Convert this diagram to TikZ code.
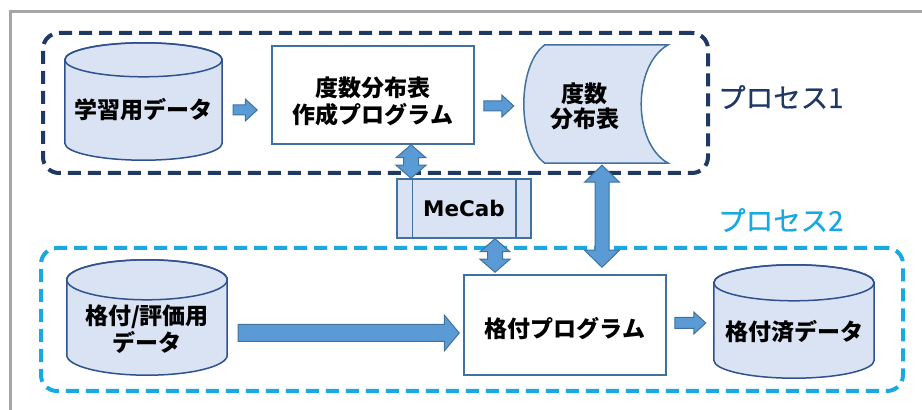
\documentclass[tikz,border=0pt]{standalone}
\usepackage{fontspec}
\newfontfamily\jp{Noto Sans CJK JP}
\newfontfamily\jpmed{Noto Sans CJK JP}[FakeBold=0.6]
\newfontfamily\lat{DejaVu Sans}
\usetikzlibrary{calc}
\definecolor{navy}{HTML}{203864}
\definecolor{sky}{HTML}{19A9E1}
\definecolor{cylfillc}{HTML}{DAE3F3}
\definecolor{cyllinec}{HTML}{2F528F}
\definecolor{boxline}{HTML}{41719C}
\definecolor{arrfill}{HTML}{5B9BD5}
\definecolor{framec}{HTML}{A6A6A6}
\tikzset{
  frameline/.style={draw=framec,line width=3pt},
  proc1box/.style={draw=navy,line width=4pt,dash pattern=on 13pt off 7pt,rounded corners=16pt,inner sep=0pt},
  proc2box/.style={draw=sky,line width=4pt,dash pattern=on 13pt off 7pt,rounded corners=16pt,inner sep=0pt},
  area/.style={inner sep=0pt,minimum width=#1},
  progbox/.style={draw=boxline,line width=1.5pt,fill=white,inner sep=0pt},
  cylfill/.style={fill=cylfillc,draw=cyllinec,line width=1.5pt},
  cylline/.style={draw=cyllinec,line width=1.5pt},
  storefill/.style={fill=cylfillc,draw=boxline,line width=1.5pt},
  jtxt/.style={font=\jp\bfseries\fontsize{23}{27}\selectfont,align=center,text=black,inner sep=0pt},
  proclabel/.style={font=\jpmed\fontsize{27.5}{30}\selectfont,inner sep=0pt,anchor=west},
  arr/.style={fill=arrfill,draw=boxline,line width=1pt,line join=miter},
}
% cylinder outline fitted into a named node
\newcommand\drawcyl[2]{%
  \path[cylfill] let \p1=(#1.north west), \p2=(#1.south east) in
    (\x1,\y1-#2pt) -- (\x1,\y2+#2pt) arc[start angle=180,end angle=360,x radius={(\x2-\x1)/2},y radius=#2pt]
    -- (\x2,\y1-#2pt) arc[start angle=0,end angle=180,x radius={(\x2-\x1)/2},y radius=#2pt] -- cycle;
  \draw[cylline] let \p1=(#1.north west), \p2=(#1.south east) in
    (\x1,\y1-#2pt) arc[start angle=180,end angle=-180,x radius={(\x2-\x1)/2},y radius=#2pt];
}
% single block arrow: start, end, half shaft, half head, head length (all pt)
\newcommand\fatarrow[5]{%
  \coordinate (faN) at ($(#2)!#5pt!(#1)$);
  \draw[arr] ($(#1)!#3pt!90:(#2)$) -- ($(faN)!#3pt!90:(#2)$) -- ($(faN)!#4pt!90:(#2)$) -- (#2)
    -- ($(faN)!#4pt!-90:(#2)$) -- ($(faN)!#3pt!-90:(#2)$) -- ($(#1)!#3pt!-90:(#2)$) -- cycle;
}
% double block arrow
\newcommand\dblarrow[5]{%
  \coordinate (daA) at ($(#1)!#5pt!(#2)$);
  \coordinate (daB) at ($(#2)!#5pt!(#1)$);
  \draw[arr] (#1) -- ($(daA)!#4pt!90:(#2)$) -- ($(daA)!#3pt!90:(#2)$) -- ($(daB)!#3pt!90:(#2)$)
    -- ($(daB)!#4pt!90:(#2)$) -- (#2) -- ($(daB)!#4pt!-90:(#2)$) -- ($(daB)!#3pt!-90:(#2)$)
    -- ($(daA)!#3pt!-90:(#2)$) -- ($(daA)!#4pt!-90:(#2)$) -- cycle;
}
\begin{document}
\begin{tikzpicture}[x=1pt,y=1pt]
\useasboundingbox (0,0) rectangle (922,410);
% outer frame (top and left only)
\draw[frameline] (8.5,398.5) -- (922,398.5);
\draw[frameline] (10,398.5) -- (10,0);
% process frames
\node[proc1box,minimum width=665pt,minimum height=140pt] (P1) at (375.5,307) {};
\node[proc2box,minimum width=862pt,minimum height=143pt] (P2) at (472,90.5) {};
\node[proclabel,text=navy] (t1) at (718,313) {プロセス1};
\node[proclabel,text=sky] (t2) at (718,190) {プロセス2};
% process 1
\node[area=157pt,minimum height=117pt] (d1) at (143.5,308.5) {};
\drawcyl{d1}{17}
\node[jtxt] (d1t) at ($(d1.center)+(0,-8)$) {学習用データ};
\node[progbox,minimum width=202pt,minimum height=98pt] (pA) at (373,315) {};
\node[jtxt] (pAt) at ($(pA.center)+(0,-6)$) {度数分布表\\作成プログラム};
\node[area=145pt,minimum height=118pt] (fd) at (595.5,306) {};
\path[storefill] ($(fd.north west)+(22,0)$) .. controls ($(fd.north west)+(-6,-20)$) and ($(fd.south west)+(-6,20)$) .. ($(fd.south west)+(22,0)$)
  -- (fd.south east) .. controls ($(fd.south east)+(-36,20)$) and ($(fd.north east)+(-36,-20)$) .. (fd.north east) -- cycle;
\node[jtxt,font=\jp\bfseries\fontsize{23}{25}\selectfont] (fdt) at ($(fd.center)+(-11,-2)$) {度数\\分布表};
% MeCab
\node[area=134pt,minimum height=59pt,fill=cylfillc,draw=boxline,line width=1.5pt] (mc) at (464,201.5) {};
\draw[boxline,line width=1.5pt] ($(mc.north west)+(16,0)$) -- ($(mc.south west)+(16,0)$);
\draw[boxline,line width=1.5pt] ($(mc.north east)+(-16,0)$) -- ($(mc.south east)+(-16,0)$);
\node[font=\lat\bfseries\fontsize{21.5}{24}\selectfont,inner sep=0pt] (mct) at (mc.center) {MeCab};
% process 2
\node[area=160pt,minimum height=115pt] (d2) at (147,92.5) {};
\drawcyl{d2}{20}
\node[jtxt] (d2t) at ($(d2.center)+(0,-12)$) {格付/評価用\\データ};
\node[progbox,minimum width=202pt,minimum height=100pt] (pB) at (565,85) {};
\node[jtxt] (pBt) at ($(pB.center)+(0,-4)$) {格付プログラム};
\node[area=160pt,minimum height=113pt] (d3) at (794,88.5) {};
\drawcyl{d3}{18}
\node[jtxt] (d3t) at ($(d3.center)+(0,-10)$) {格付済データ};
% arrows
\coordinate (a1s) at ($(d1.east)+(11,-8.5)$);
\coordinate (a1e) at ($(pA.west)+(-14,-15)$);
\fatarrow{a1s}{a1e}{5}{11}{12}
\coordinate (a2s) at ($(pA.east)+(9,-11)$);
\coordinate (a2e) at ($(fd.west)+(-9,-2)$);
\fatarrow{a2s}{a2e}{5}{11}{12}
\coordinate (a3s) at ($(d2.east)+(11,-15.5)$);
\coordinate (a3e) at ($(pB.west)+(-4,-8)$);
\fatarrow{a3s}{a3e}{8.5}{18}{15}
\coordinate (a4s) at ($(pB.east)+(8,2)$);
\coordinate (a4e) at ($(d3.west)+(-8,-1.5)$);
\fatarrow{a4s}{a4e}{5.5}{11}{12}
\coordinate (v1s) at ($(pA.south)+(38,0)$);
\coordinate (v1e) at ($(mc.north)+(-53,0)$);
\dblarrow{v1s}{v1e}{7.5}{15}{13}
\coordinate (v2s) at ($(mc.south)+(31,0)$);
\coordinate (v2e) at ($(pB.north)+(-70,2)$);
\dblarrow{v2s}{v2e}{7.5}{15}{13}
\coordinate (v3s) at ($(fd.south)+(6.5,-2)$);
\coordinate (v3e) at ($(pB.north)+(37,7)$);
\dblarrow{v3s}{v3e}{7}{17.5}{17}
\end{tikzpicture}
\end{document}
